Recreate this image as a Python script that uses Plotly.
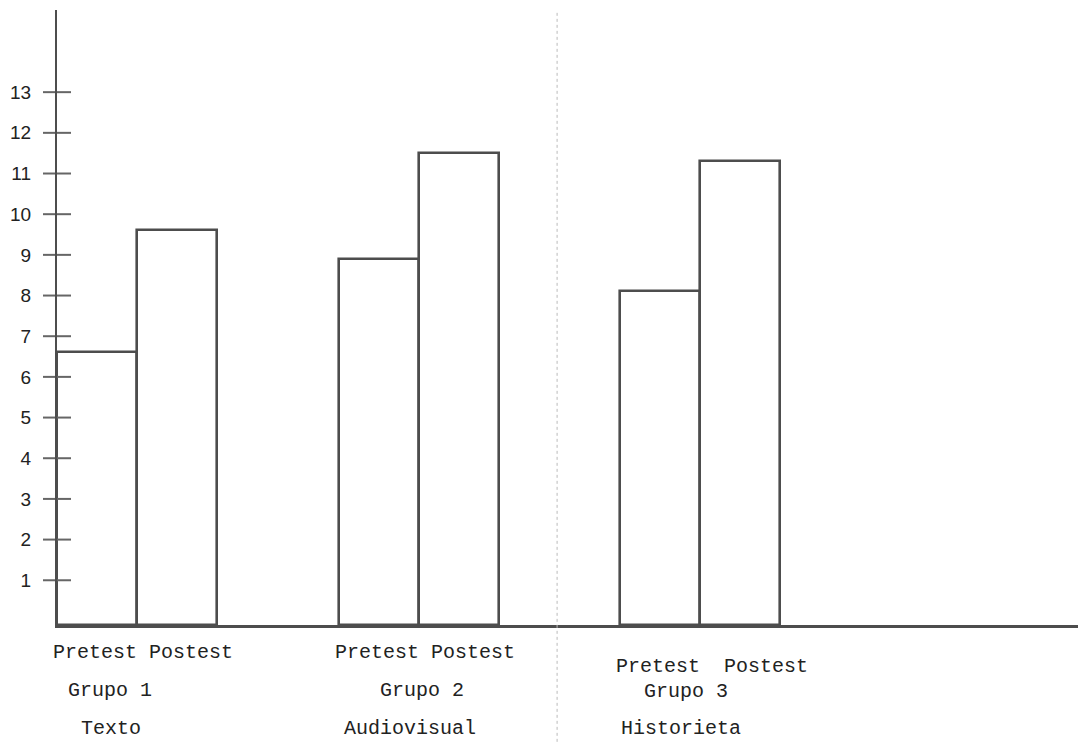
import plotly.graph_objects as go

# ---- data ----
groups = ["Grupo 1", "Grupo 2", "Grupo 3"]
treatments = ["Texto", "Audiovisual", "Historieta"]
series = ["Pretest", "Postest"]
pretest = [6.6, 8.9, 8.1]
postest = [9.6, 11.5, 11.3]
y_ticks = [1, 2, 3, 4, 5, 6, 7, 8, 9, 10, 11, 12, 13]

# ---- layout constants ----
group_offset = [0.0, 3.52, 7.04]
y_min, y_max = -0.1, 15.02
x_min, x_max = -0.5, 12.36
line_col = "#4d4d4d"
text_font = dict(family="Liberation Mono", size=20, color="#222")

fig = go.Figure()

for vals, k in ((pretest, 0), (postest, 1)):
    fig.add_trace(go.Bar(
        x=[g + k for g in group_offset],
        y=[v - y_min for v in vals],
        base=y_min,
        width=1.0,
        marker=dict(color="white", line=dict(color=line_col, width=2.6)),
        name=series[k],
        showlegend=False,
    ))

# crossing tick marks on the y axis
fig.add_trace(go.Scatter(
    x=[x_min] * len(y_ticks), y=y_ticks, mode="markers",
    marker=dict(symbol="line-ew", size=20, line=dict(color="#666", width=2)),
    cliponaxis=False, showlegend=False, hoverinfo="skip",
))

fig.update_layout(
    width=1078, height=736,
    margin=dict(l=49, r=0, t=2, b=119),
    paper_bgcolor="white", plot_bgcolor="white",
    bargap=0,
    xaxis=dict(range=[x_min, x_max], showgrid=False, zeroline=False,
               showticklabels=False, ticks="",
               showline=True, linecolor=line_col, linewidth=2.5),
    yaxis=dict(range=[y_min, y_max], showgrid=False, zeroline=False,
               tickvals=y_ticks, ticktext=[str(t) for t in y_ticks],
               ticks="", ticklabelstandoff=20,
               tickfont=dict(family="Liberation Sans", size=19, color="#222"),
               showline=True, linecolor=line_col, linewidth=2.2),
)

# labels under the bars
row1_shift = [-27, -27, -41]
grp_shift = [-65, -65, -66]
name_shift = [-103, -103, -103]
grp_x = [-27, 3, -14]
name_x = [-26, -9, -19]
sep = [" ", " ", "  "]
for i, g in enumerate(group_offset):
    fig.add_annotation(x=g - 0.5, y=0, yref="paper", xanchor="left", yanchor="middle",
                       xshift=-6, yshift=row1_shift[i], showarrow=False,
                       text=sep[i].join(series), font=text_font)
    fig.add_annotation(x=g + 0.5, y=0, yref="paper", xanchor="center", yanchor="middle",
                       xshift=grp_x[i], yshift=grp_shift[i], showarrow=False,
                       text=groups[i], font=text_font)
    fig.add_annotation(x=g + 0.5, y=0, yref="paper", xanchor="center", yanchor="middle",
                       xshift=name_x[i], yshift=name_shift[i], showarrow=False,
                       text=treatments[i], font=text_font)

# faint fold line of the scanned page
fig.add_shape(type="line", xref="paper", yref="paper", x0=0.486, x1=0.486,
              y0=-0.19, y1=1.0, line=dict(color="#bbb", width=1, dash="dot"))

fig.write_html("out.html")
